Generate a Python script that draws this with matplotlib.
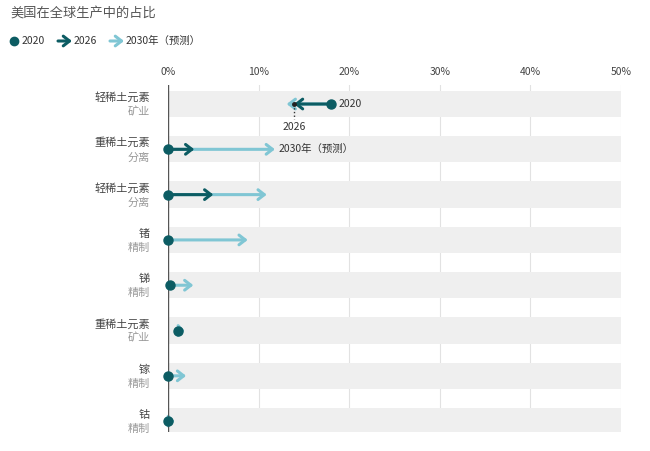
import matplotlib
matplotlib.use("Agg")
import matplotlib.pyplot as plt
from matplotlib.transforms import blended_transform_factory
from matplotlib.lines import Line2D

plt.rcParams['font.family'] = ['Noto Sans CJK SC', 'DejaVu Sans']

names = ["轻稀土元素", "重稀土元素", "轻稀土元素", "锗", "锑", "重稀土元素", "镓", "钴"]
subs = ["矿业", "分离", "分离", "精制", "精制", "矿业", "精制", "精制"]
v2020 = [18.0, 0.0, 0.0, 0.0, 0.2, 1.1, 0.0, 0.0]
v2026 = [13.9, 2.9, 5.0, 0.0, 0.2, 1.1, 0.0, 0.0]
v2030 = [13.1, 11.8, 10.9, 8.8, 2.8, 1.8, 2.0, 0.7]
xticks = [0, 10, 20, 30, 40, 50]

DARK = "#0c5c63"
LIGHT = "#80c6d4"
fig = plt.figure(figsize=(6.5, 4.51), dpi=100)
ax = fig.add_axes([168/650, 1-432/451, 453/650, (432-85)/451])
ax.set_xlim(0, 50)
ax.set_ylim(7.24, -0.42)
for s in ax.spines.values():
    s.set_visible(False)
ax.xaxis.tick_top()
ax.set_xticks(xticks)
ax.set_xticklabels([f"{t}%" for t in xticks], fontsize=7.5, color="#444")
ax.tick_params(axis='x', length=0, pad=6)
ax.set_yticks([])
for t in xticks[1:]:
    ax.axvline(t, color="#e2e2e2", lw=0.8, zorder=0)
ax.axvline(0, color="#555", lw=1.0, zorder=4)
for i in range(len(names)):
    ax.axhspan(i-0.29, i+0.29, color="#efefef", zorder=0, lw=0)

def arrow(a, c, i, col, z):
    d = abs(c - a)
    hl = 0.45 if d > 1.5 else 0.3
    ax.annotate("", xy=(c, i), xytext=(a, i),
                arrowprops=dict(arrowstyle=f"->,head_length={hl},head_width=0.35", color=col, lw=2.2, shrinkA=0, shrinkB=0), zorder=z)

for i in range(len(names)):
    a, b, c = v2020[i], v2026[i], v2030[i]
    if abs(c - a) > 0.05:
        arrow(a, c, i, LIGHT, 2)
    if abs(b - a) > 0.05:
        arrow(a, b, i, DARK, 3)
    ax.plot(a, i, 'o', color=DARK, ms=6.5, zorder=5, clip_on=False)

ax.text(v2020[0]+0.8, 0, "2020", fontsize=7.5, color="#333", va="center")
ax.plot([v2026[0], v2026[0]], [0, 0.33], ls=":", color="#333", lw=1, zorder=6)
ax.plot(v2026[0], 0, 'o', color="#222", ms=2.5, zorder=6)
ax.text(v2026[0], 0.5, "2026", fontsize=7.5, color="#333", ha="center", va="center")
ax.text(v2030[1]+0.4, 1, "2030年（预测）", fontsize=7.5, color="#333", va="center")

tr = blended_transform_factory(ax.transAxes, ax.transData)
for i in range(len(names)):
    ax.text(-0.04, i-0.14, names[i], transform=tr, ha="right", va="center", fontsize=8, color="#444")
    ax.text(-0.04, i+0.18, subs[i], transform=tr, ha="right", va="center", fontsize=8, color="#999")

fig.text(10/650, 1-13/451, "美国在全球生产中的占比", fontsize=9.5, color="#555", va="center")
ly = 1-41/451
fig.add_artist(Line2D([14/650], [ly], marker='o', color=DARK, ms=6, transform=fig.transFigure))
fig.text(22/650, ly, "2020", fontsize=7.5, color="#333", va="center")
ax.annotate("", xy=(72/650, ly), xytext=(58/650, ly), xycoords=fig.transFigure, textcoords=fig.transFigure,
            arrowprops=dict(arrowstyle="->,head_length=0.45,head_width=0.35", color=DARK, lw=2.2, shrinkA=0, shrinkB=0), annotation_clip=False)
fig.text(74/650, ly, "2026", fontsize=7.5, color="#333", va="center")
ax.annotate("", xy=(124/650, ly), xytext=(110/650, ly), xycoords=fig.transFigure, textcoords=fig.transFigure,
            arrowprops=dict(arrowstyle="->,head_length=0.45,head_width=0.35", color=LIGHT, lw=2.2, shrinkA=0, shrinkB=0), annotation_clip=False)
fig.text(126/650, ly, "2030年（预测）", fontsize=7.5, color="#333", va="center")

fig.savefig("out.png", dpi=100)
